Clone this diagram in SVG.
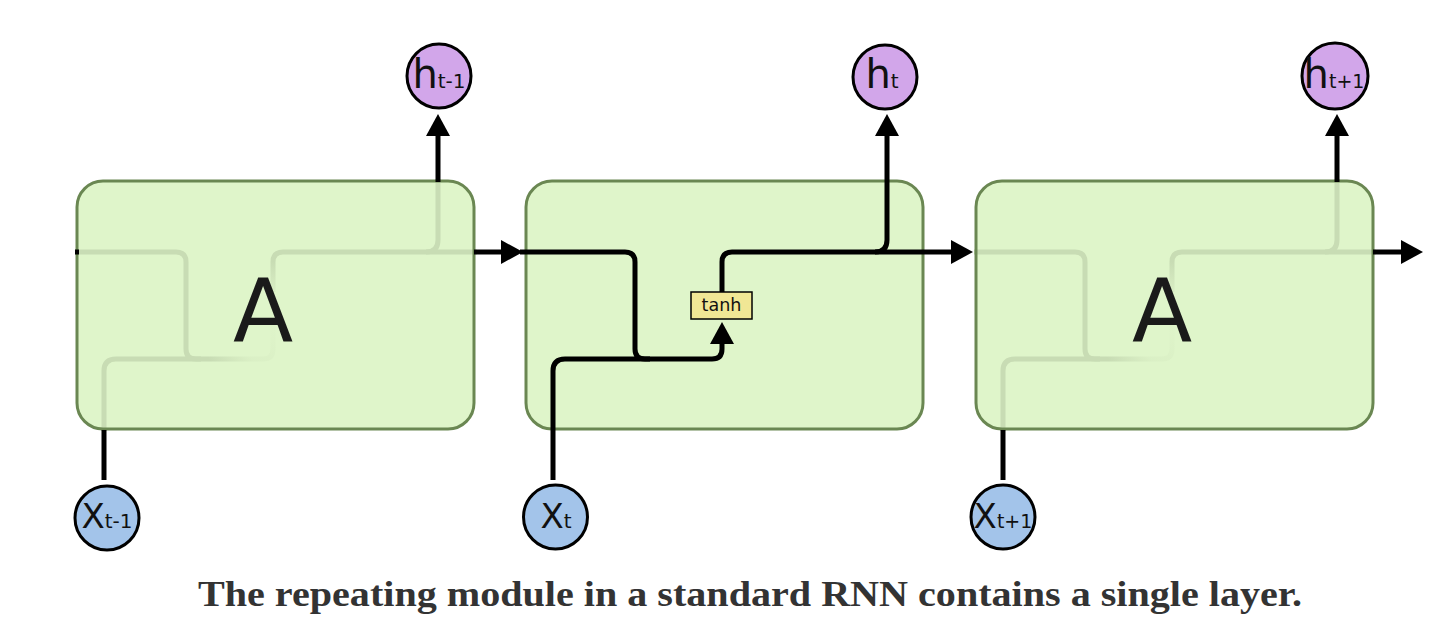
<svg xmlns="http://www.w3.org/2000/svg" width="1434" height="634" viewBox="0 0 1434 634">
  <style>
    .cell { fill: #dff5ca; }
    .cell-edge { fill: none; stroke: #6a8752; stroke-width: 3; }
    .wire { fill: none; stroke: #000; stroke-width: 5; }
    .wire-faint { fill: none; stroke: #c8dcb4; stroke-width: 5; }
    .in { fill: #a3c4ea; stroke: #000; stroke-width: 3; }
    .out { fill: #d2a6ea; stroke: #000; stroke-width: 3; }
    .lbl { font-family: "DejaVu Sans", sans-serif; fill: #111; }
    .big { font-family: "DejaVu Sans", sans-serif; font-size: 88px; fill: #1a1a1a; text-anchor: middle; }
    .layer { fill: #f1e795; stroke: #000; stroke-width: 1.5; }
    .caption { font-family: "Liberation Serif", serif; font-weight: bold; font-size: 36px; fill: #333; text-anchor: middle; }
  </style>
  <defs>
    <marker id="arrow" viewBox="0 0 22 24" refX="4" refY="12" markerWidth="22" markerHeight="24" markerUnits="userSpaceOnUse" orient="auto">
      <path d="M0,0 L22,12 L0,24 Z" fill="#000"/>
    </marker>
    <radialGradient id="fade">
      <stop offset="0" stop-color="#dff5ca" stop-opacity="0.95"/>
      <stop offset="0.5" stop-color="#dff5ca" stop-opacity="0.8"/>
      <stop offset="1" stop-color="#dff5ca" stop-opacity="0"/>
    </radialGradient>
    <!-- internal wiring of a cell, in cell-local coordinates -->
    <g id="cell-wiring">
      <path d="M-2,71 H99 Q109,71 109,81 V168 Q109,178 119,178 H186 Q196,178 196,168 V140"/>
      <path d="M27,250 V190 Q27,178 39,178 H124"/>
      <path d="M196,111 V81 Q196,71 206,71 H400"/>
      <path d="M349,71 Q361,71 361,59 V-2"/>
    </g>
  </defs>

  <rect width="1434" height="634" fill="#fff"/>

  <!-- cell A at t-1 -->
  <g id="cell-prev" transform="translate(77,181)">
    <rect class="cell" width="397" height="248" rx="26"/>
    <use href="#cell-wiring" class="wire-faint"/>
    <circle cx="196" cy="150" r="70" fill="url(#fade)"/>
    <rect class="cell-edge" width="397" height="248" rx="26"/>
    <text class="big" x="186" y="160">A</text>
  </g>

  <!-- cell at t, opened up -->
  <g id="cell-now" transform="translate(526,181)">
    <rect class="cell" width="397" height="248" rx="26"/>
    <rect class="cell-edge" width="397" height="248" rx="26"/>
  </g>

  <!-- cell A at t+1 -->
  <g id="cell-next" transform="translate(976,181)">
    <rect class="cell" width="397" height="248" rx="26"/>
    <use href="#cell-wiring" class="wire-faint"/>
    <circle cx="196" cy="150" r="70" fill="url(#fade)"/>
    <rect class="cell-edge" width="397" height="248" rx="26"/>
    <text class="big" x="186" y="160">A</text>
  </g>

  <!-- connectors -->
  <g id="connectors" class="wire">
    <path d="M75,252 H79"/>
    <path d="M474,252 H505" marker-end="url(#arrow)"/>
    <path d="M438,182 V132" marker-end="url(#arrow)"/>
    <path d="M104,480 V430"/>
    <path d="M520,252 H625 Q635,252 635,262 V349 Q635,359 645,359 H712 Q722,359 722,349 V340" marker-end="url(#arrow)"/>
    <path d="M553,480 V371 Q553,359 565,359 H650"/>
    <path d="M722,292 V262 Q722,252 732,252 H955" marker-end="url(#arrow)"/>
    <path d="M875,252 Q887,252 887,240 V132" marker-end="url(#arrow)"/>
    <path d="M1003,480 V430"/>
    <path d="M1337,182 V132" marker-end="url(#arrow)"/>
    <path d="M1373,252 H1405" marker-end="url(#arrow)"/>
  </g>

  <!-- tanh layer -->
  <g id="tanh">
    <rect class="layer" x="691" y="292" width="61" height="27"/>
    <text class="lbl" x="721.5" y="311" font-size="17.5" text-anchor="middle">tanh</text>
  </g>

  <!-- outputs -->
  <g id="h-prev">
    <circle class="out" cx="439" cy="76" r="32"/>
    <text class="lbl" x="439" y="88" text-anchor="middle"><tspan font-size="40">h</tspan><tspan font-size="20">t-1</tspan></text>
  </g>
  <g id="h-now">
    <circle class="out" cx="885" cy="77" r="32"/>
    <text class="lbl" x="882" y="88" text-anchor="middle"><tspan font-size="40">h</tspan><tspan font-size="20">t</tspan></text>
  </g>
  <g id="h-next">
    <circle class="out" cx="1335" cy="76" r="33"/>
    <text class="lbl" x="1334" y="88" text-anchor="middle"><tspan font-size="40">h</tspan><tspan font-size="19">t+1</tspan></text>
  </g>

  <!-- inputs -->
  <g id="x-prev">
    <circle class="in" cx="107" cy="518" r="32"/>
    <text class="lbl" x="107" y="528" text-anchor="middle"><tspan font-size="34">X</tspan><tspan font-size="20">t-1</tspan></text>
  </g>
  <g id="x-now">
    <circle class="in" cx="555.5" cy="517" r="32"/>
    <text class="lbl" x="556" y="528" text-anchor="middle"><tspan font-size="34">X</tspan><tspan font-size="20">t</tspan></text>
  </g>
  <g id="x-next">
    <circle class="in" cx="1003" cy="517" r="32"/>
    <text class="lbl" x="1003" y="528" text-anchor="middle"><tspan font-size="34">X</tspan><tspan font-size="19">t+1</tspan></text>
  </g>

  <text class="caption" x="750" y="606" textLength="1104" lengthAdjust="spacingAndGlyphs">The repeating module in a standard RNN contains a single layer.</text>
</svg>
